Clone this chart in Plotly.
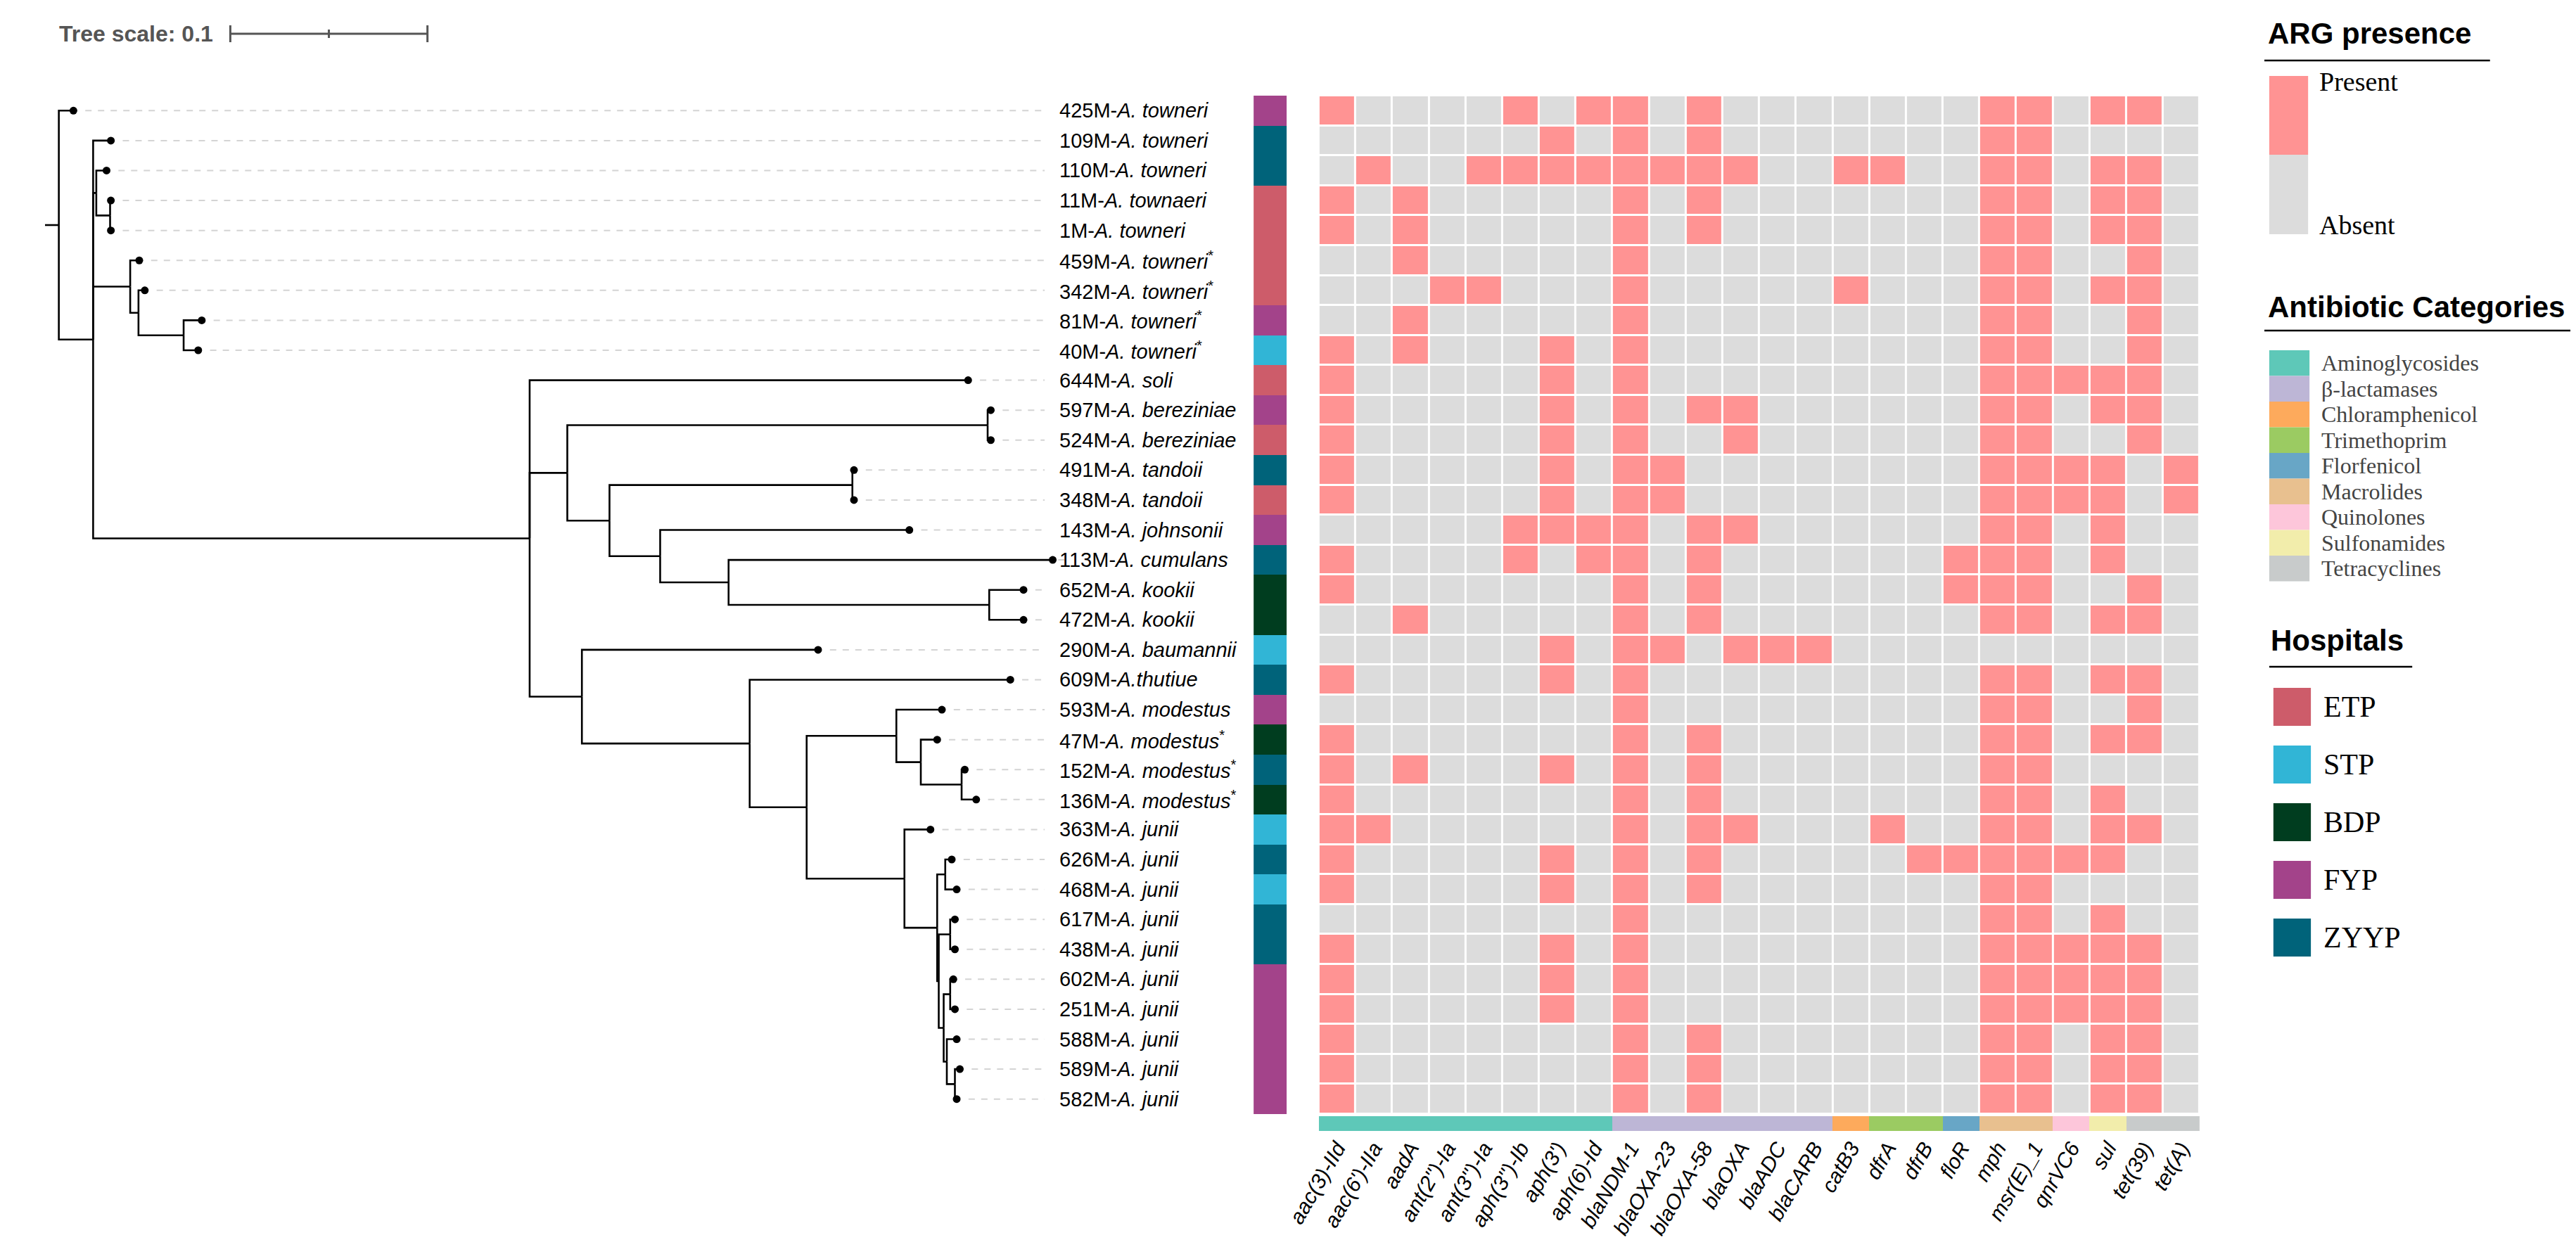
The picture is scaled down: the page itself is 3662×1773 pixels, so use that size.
import plotly.graph_objects as go

W, H = 3662, 1773

# ---- data ----
strains = ['425M', '109M', '110M', '11M', '1M', '459M', '342M', '81M', '40M', '644M',
           '597M', '524M', '491M', '348M', '143M', '113M', '652M', '472M', '290M', '609M',
           '593M', '47M', '152M', '136M', '363M', '626M', '468M', '617M', '438M', '602M',
           '251M', '588M', '589M', '582M']
species = ['A. towneri', 'A. towneri', 'A. towneri', 'A. townaeri', 'A. towneri', 'A. towneri',
           'A. towneri', 'A. towneri', 'A. towneri', 'A. soli', 'A. bereziniae', 'A. bereziniae',
           'A. tandoii', 'A. tandoii', 'A. johnsonii', 'A. cumulans', 'A. kookii', 'A. kookii',
           'A. baumannii', 'A.thutiue', 'A. modestus', 'A. modestus', 'A. modestus', 'A. modestus',
           'A. junii', 'A. junii', 'A. junii', 'A. junii', 'A. junii', 'A. junii', 'A. junii',
           'A. junii', 'A. junii', 'A. junii']
starred = ['459M', '342M', '81M', '40M', '47M', '152M', '136M']
hospital = ['FYP', 'ZYYP', 'ZYYP', 'ETP', 'ETP', 'ETP', 'ETP', 'FYP', 'STP', 'ETP',
            'FYP', 'ETP', 'ZYYP', 'ETP', 'FYP', 'ZYYP', 'BDP', 'BDP', 'STP', 'ZYYP',
            'FYP', 'BDP', 'ZYYP', 'BDP', 'STP', 'ZYYP', 'STP', 'ZYYP', 'ZYYP', 'FYP',
            'FYP', 'FYP', 'FYP', 'FYP']
genes = ["aac(3)-IId", "aac(6')-IIa", "aadA", "ant(2'')-Ia", "ant(3'')-Ia", "aph(3'')-Ib",
         "aph(3')", "aph(6)-Id", "blaNDM-1", "blaOXA-23", "blaOXA-58", "blaOXA", "blaADC",
         "blaCARB", "catB3", "dfrA", "dfrB", "floR", "mph", "msr(E)_1", "qnrVC6", "sul",
         "tet(39)", "tet(A)"]
gene_cat = ['Aminoglycosides'] * 8 + ['β-lactamases'] * 6 + ['Chloramphenicol'] + \
           ['Trimethoprim'] * 2 + ['Florfenicol'] + ['Macrolides'] * 2 + ['Quinolones'] + \
           ['Sulfonamides'] + ['Tetracyclines'] * 2
# indices of genes present per strain (same order as strains)
present = [
    [0, 5, 7, 8, 10, 18, 19, 21, 22],
    [6, 8, 10, 18, 19],
    [1, 4, 5, 6, 7, 8, 9, 10, 11, 14, 15, 18, 19, 21, 22],
    [0, 2, 8, 10, 18, 19, 21, 22],
    [0, 2, 8, 10, 18, 19, 21, 22],
    [2, 8, 18, 19, 22],
    [3, 4, 8, 14, 18, 19, 21, 22],
    [2, 8, 18, 19, 22],
    [0, 2, 6, 8, 18, 19, 22],
    [0, 6, 8, 18, 19, 20, 21, 22],
    [0, 6, 8, 10, 11, 18, 19, 21, 22],
    [0, 6, 8, 11, 18, 19, 22],
    [0, 6, 8, 9, 18, 19, 20, 21, 23],
    [0, 6, 8, 9, 18, 19, 20, 21, 23],
    [5, 6, 7, 8, 10, 11, 18, 19, 21],
    [0, 5, 7, 8, 10, 17, 18, 19, 21],
    [0, 8, 10, 17, 18, 19, 22],
    [2, 8, 10, 18, 19, 21, 22],
    [6, 8, 9, 11, 12, 13],
    [0, 6, 8, 18, 19, 21, 22],
    [8, 18, 19, 22],
    [0, 8, 10, 18, 19, 21, 22],
    [0, 2, 6, 8, 10, 18, 19],
    [0, 8, 10, 18, 19, 21],
    [0, 1, 8, 10, 11, 15, 18, 19, 21, 22],
    [0, 6, 8, 10, 16, 17, 18, 19, 20, 21],
    [0, 6, 8, 10, 18, 19],
    [8, 18, 19, 21],
    [0, 6, 8, 18, 19, 20, 21, 22],
    [0, 6, 8, 18, 19, 20, 21, 22],
    [0, 6, 8, 18, 19, 20, 21, 22],
    [0, 8, 10, 18, 19, 21, 22],
    [0, 8, 10, 18, 19, 21, 22],
    [0, 8, 10, 18, 19, 21, 22],
]
# tree: node -> (parent, distance from root)
tree = {
    'root': (None, 0.0),
    '425M': ('root', 0.0074), 'B': ('root', 0.0174),
    '109M': ('B', 0.0264), 'C': ('B', 0.019),
    '110M': ('C', 0.0242), 'D': ('C', 0.026), '11M': ('D', 0.0264), '1M': ('D', 0.0264),
    'E': ('B', 0.0362), '459M': ('E', 0.0408), 'F': ('E', 0.0404), '342M': ('F', 0.0436),
    'G': ('F', 0.0633), '81M': ('G', 0.0725), '40M': ('G', 0.0707),
    'H': ('B', 0.2388), '644M': ('H', 0.4612),
    'I': ('H', 0.2579), 'J': ('I', 0.4711), '597M': ('J', 0.4727), '524M': ('J', 0.4727),
    'K': ('I', 0.2793), 'L': ('K', 0.4025), '491M': ('L', 0.4033), '348M': ('L', 0.4033),
    'M': ('K', 0.305), '143M': ('M', 0.4314), 'N': ('M', 0.3397), '113M': ('N', 0.5041),
    'O': ('N', 0.4719), '652M': ('O', 0.4893), '472M': ('O', 0.4893),
    'P': ('H', 0.2653), '290M': ('P', 0.3851), 'Q': ('P', 0.3504), '609M': ('Q', 0.4826),
    'R': ('Q', 0.3793), 'S': ('R', 0.4248), '593M': ('S', 0.4479),
    'T': ('S', 0.4372), '47M': ('T', 0.4455),
    'U': ('T', 0.4579), '152M': ('U', 0.4595), '136M': ('U', 0.4653),
    'V': ('R', 0.4289), '363M': ('V', 0.4421), 'W': ('V', 0.4455),
    'X': ('W', 0.4496), '626M': ('X', 0.4529), '468M': ('X', 0.4554),
    'Y': ('W', 0.4463), 'Z': ('Y', 0.4521), '617M': ('Z', 0.4545), '438M': ('Z', 0.4545),
    'AA': ('Y', 0.4488), 'BB': ('AA', 0.4521), '602M': ('BB', 0.4537), '251M': ('BB', 0.4545),
    'CC': ('AA', 0.4504), '588M': ('CC', 0.4554),
    'DD': ('CC', 0.4545), '589M': ('DD', 0.457), '582M': ('DD', 0.4554),
}
hosp_names = ['ETP', 'STP', 'BDP', 'FYP', 'ZYYP']
hosp_colors = ['#CD5C6A', '#31B5D6', '#003D1F', '#A3438A', '#00637A']
cat_names = ['Aminoglycosides', 'β-lactamases', 'Chloramphenicol', 'Trimethoprim', 'Florfenicol',
             'Macrolides', 'Quinolones', 'Sulfonamides', 'Tetracyclines']
cat_colors = ['#5EC8B8', '#BDB6D6', '#FDAA5C', '#9BCB62', '#68A6C6', '#E8C08F', '#FDC6DA',
              '#F2EDAB', '#C8CBCB']
PRES, ABS = '#FF9393', '#DCDCDC'

n = len(strains)
row = {s: i for i, s in enumerate(strains)}

# ---- tree layout ----
children = {}
for k, (p, d) in tree.items():
    if p:
        children.setdefault(p, []).append(k)
ypos = {}
def node_y(k):
    if k in row:
        ypos[k] = row[k]
    else:
        ys = [node_y(c) for c in children[k]]
        ypos[k] = (min(ys) + max(ys)) / 2
    return ypos[k]
node_y('root')

lx, ly = [-0.007, 0, None], [ypos['root'], ypos['root'], None]
for k, (p, d) in tree.items():
    if p:
        pd_ = tree[p][1]
        lx += [pd_, pd_, d, None]
        ly += [ypos[p], ypos[k], ypos[k], None]

gx, gy = [], []
for s in strains:
    gx += [tree[s][1] + 0.006, 0.5, None]
    gy += [row[s], row[s], None]

def px(x): return x / W
def py(y): return 1 - y / H

fig = go.Figure()
fig.add_trace(go.Scatter(x=gx, y=gy, mode='lines', line=dict(color='#D4D4D4', width=2, dash='dash'),
                         hoverinfo='skip', xaxis='x', yaxis='y'))
fig.add_trace(go.Scatter(x=lx, y=ly, mode='lines', line=dict(color='black', width=2.6),
                         hoverinfo='skip', xaxis='x', yaxis='y'))
fig.add_trace(go.Scatter(x=[tree[s][1] for s in strains], y=list(range(n)), mode='markers',
                         marker=dict(color='black', size=11), xaxis='x', yaxis='y'))

hz = [[hosp_names.index(h)] for h in hospital]
hscale = []
for i, c in enumerate(hosp_colors):
    hscale += [[i / 5, c], [(i + 1) / 5, c]]
fig.add_trace(go.Heatmap(z=hz, x=[0], y=list(range(n)), colorscale=hscale, zmin=-0.5, zmax=4.5,
                         showscale=False, xaxis='x2', yaxis='y'))

pz = [[1 if j in present[i] else 0 for j in range(len(genes))] for i in range(n)]
fig.add_trace(go.Heatmap(z=pz, x=genes, y=list(range(n)), colorscale=[[0, ABS], [1, PRES]],
                         zmin=0, zmax=1, xgap=3, ygap=3, showscale=False, xaxis='x3', yaxis='y'))

cz = [[cat_names.index(c) for c in gene_cat]]
cscale = []
for i, c in enumerate(cat_colors):
    cscale += [[i / 9, c], [(i + 1) / 9, c]]
fig.add_trace(go.Heatmap(z=cz, x=genes, y=[0], colorscale=cscale, zmin=-0.5, zmax=8.5,
                         showscale=False, xaxis='x4', yaxis='y2'))

# tip labels
ann = []
for i, s in enumerate(strains):
    t = f'{s}-<i>{species[i]}</i>' + ('<sup>*</sup>' if s in starred else '')
    ann.append(dict(x=0.5067, y=i, xref='x', yref='y', text=t, showarrow=False, xanchor='left',
                    yanchor='middle', font=dict(size=29, color='black', family='Liberation Sans')))

# row axis geometry
top, bot = 128, 1576
hm_l, hm_r = 1843, 3112
noax = dict(visible=False, fixedrange=True)
fig.update_layout(
    width=W, height=H, margin=dict(l=0, r=0, t=0, b=0), showlegend=False,
    paper_bgcolor='white', plot_bgcolor='white',
    xaxis=dict(domain=[0, px(1740)], range=[-28 / 2840, 1712 / 2840], **noax),
    yaxis=dict(domain=[py(bot), py(top)], range=[n - 0.5, -0.5], **noax),
    xaxis2=dict(domain=[px(1749), px(1797)], range=[-0.5, 0.5], **noax),
    xaxis3=dict(domain=[px(hm_l), px(hm_r)], anchor='y', **noax),
    xaxis4=dict(domain=[px(hm_l), px(hm_r)], anchor='y2', showgrid=False, zeroline=False,
                tickangle=-60, tickvals=genes, ticktext=[f'<i>{g}</i>' for g in genes],
                tickfont=dict(size=30, color='black', family='Liberation Sans'), ticks='',
                showline=False),
    yaxis2=dict(domain=[py(1600), py(1579)], **noax),
    font=dict(family='Liberation Sans'),
)

# tree scale bar
ann.append(dict(x=px(26), y=py(40), xref='paper', yref='paper', text='<b>Tree scale: 0.1</b>',
                showarrow=False, xanchor='left', yanchor='middle',
                font=dict(size=32, color='#555555')))
shapes = [
    dict(type='line', xref='x', yref='paper', x0=(275 - 28) / 2840, x1=(275 - 28) / 2840 + 0.1,
         y0=py(40), y1=py(40), line=dict(color='#555555', width=3)),
]
for xv in [0, 0.05, 0.1]:
    h = 12 if xv != 0.05 else 6
    shapes.append(dict(type='line', xref='x', yref='paper', x0=(275 - 28) / 2840 + xv,
                       x1=(275 - 28) / 2840 + xv, y0=py(40 - h), y1=py(40 + h),
                       line=dict(color='#555555', width=3)))

def title(text, x, y, ux0, ux1, uy):
    ann.append(dict(x=px(x), y=py(y), xref='paper', yref='paper', text=f'<b>{text}</b>',
                    showarrow=False, xanchor='left', yanchor='middle',
                    font=dict(size=42, color='black')))
    shapes.append(dict(type='line', xref='paper', yref='paper', x0=px(ux0), x1=px(ux1),
                       y0=py(uy), y1=py(uy), line=dict(color='black', width=2.5)))

def box(x0, x1, y0, y1, c):
    shapes.append(dict(type='rect', xref='paper', yref='paper', x0=px(x0), x1=px(x1),
                       y0=py(y1), y1=py(y0), fillcolor=c, line=dict(width=0)))

def label(text, x, y, size, color='black'):
    ann.append(dict(x=px(x), y=py(y), xref='paper', yref='paper', text=text, showarrow=False,
                    xanchor='left', yanchor='middle',
                    font=dict(size=size, color=color, family='Liberation Serif')))

title('ARG presence', 3208, 40, 3205, 3530, 78)
box(3212, 3268, 100, 212, PRES)
box(3212, 3268, 212, 325, ABS)
label('Present', 3282, 108, 38)
label('Absent', 3282, 312, 38)

title('Antibiotic Categories', 3208, 428, 3205, 3655, 462)
for i, (c, col) in enumerate(zip(cat_names, cat_colors)):
    y0 = 490 + 36.5 * i
    box(3212, 3270, y0, y0 + 36.5, col)
    label(c, 3285, y0 + 18, 32, '#444444')

title('Hospitals', 3212, 902, 3212, 3418, 940)
for i, (hn, col) in enumerate(zip(hosp_names, hosp_colors)):
    yc = 997 + 82 * i
    box(3218, 3272, yc - 27, yc + 27, col)
    label(hn, 3288, yc, 42)

fig.update_layout(annotations=ann, shapes=shapes)
fig.write_html("out.html")
